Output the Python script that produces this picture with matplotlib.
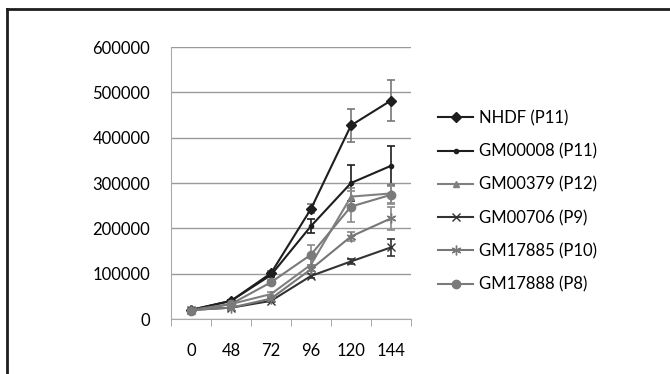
import matplotlib.pyplot as plt
from matplotlib.lines import Line2D
import numpy as np

plt.rcParams['font.family'] = ['Lato', 'DejaVu Sans']

hours = ['0', '48', '72', '96', '120', '144']

nhdf = [20000, 40000, 101000, 243000, 427000, 482000]
nhdf_err = [2000, 3000, 5000, 10000, 37000, 45000]
gm00008 = [20000, 40000, 97000, 205000, 300000, 338000]
gm00008_err = [2000, 3000, 5000, 15000, 40000, 43000]
gm00379 = [20000, 33000, 55000, 120000, 270000, 277000]
gm00379_err = [2000, 3000, 5000, 15000, 20000, 20000]
gm00706 = [20000, 25000, 40000, 95000, 127000, 158000]
gm00706_err = [2000, 2000, 3000, 5000, 6000, 18000]
gm17885 = [20000, 25000, 45000, 110000, 182000, 222000]
gm17885_err = [2000, 3000, 4000, 10000, 10000, 25000]
gm17888 = [18000, 33000, 81000, 142000, 248000, 274000]
gm17888_err = [2000, 3000, 5000, 22000, 35000, 20000]

series = [
    ('NHDF (P11)', nhdf, nhdf_err, '#1e1e1e', '#777777', 'D', 5),
    ('GM00008 (P11)', gm00008, gm00008_err, '#1e1e1e', '#1e1e1e', 'o', 3),
    ('GM00379 (P12)', gm00379, gm00379_err, '#808080', '#8a8a8a', '^', 5),
    ('GM00706 (P9)', gm00706, gm00706_err, '#333333', '#333333', 'x', 6),
    ('GM17885 (P10)', gm17885, gm17885_err, '#777777', '#8a8a8a', (6, 2, 0), 7),
    ('GM17888 (P8)', gm17888, gm17888_err, '#7a7a7a', '#8a8a8a', 'o', 6),
]

fig = plt.figure(figsize=(6.7, 3.74), dpi=100)
ax = fig.add_axes([0.2552, 0.147, 0.3582, 0.7273])

x = np.arange(len(hours))
handles = []
for name, y, err, col, ecol, mk, ms in series:
    ax.errorbar(x, y, yerr=err, color=col, ecolor=ecol, marker=mk, markersize=ms,
                linewidth=1.5, elinewidth=1.2, capsize=3, capthick=1.2)
    handles.append(Line2D([], [], color=col, marker=mk, markersize=ms, linewidth=1.5, label=name))

ax.set_xlim(-0.5, 5.5)
ax.set_ylim(0, 600000)
ax.set_yticks(np.arange(0, 600001, 100000))
ax.set_xticks(x)
ax.set_xticklabels(hours)
ax.set_xticks(np.arange(-0.5, 6, 1), minor=True)
ax.tick_params(axis='x', which='major', length=0, pad=17, labelsize=12)
ax.tick_params(axis='x', which='minor', length=5, color='#999999', direction='out')
ax.tick_params(axis='y', length=0, pad=15, labelsize=12)
ax.grid(axis='y', color='#9a9a9a', linewidth=1)
ax.set_axisbelow(True)
for s in ['top', 'right']:
    ax.spines[s].set_visible(False)
ax.spines['left'].set_color('#aaaaaa')
ax.spines['bottom'].set_color('#aaaaaa')

ax.legend(handles=handles, loc='upper left', bbox_to_anchor=(438 / 670, 1 - 110 / 374),
          bbox_transform=fig.transFigure, frameon=False, fontsize=12,
          handlelength=2.1, handletextpad=0.35, labelspacing=1.03,
          borderpad=0, borderaxespad=0)

# figure frame: top and left edges
fig.add_artist(Line2D([7 / 670, 7 / 670], [0, 1 - 9 / 374], color='#1e1e1e', linewidth=2))
fig.add_artist(Line2D([7 / 670, 1], [1 - 9 / 374, 1 - 9 / 374], color='#1e1e1e', linewidth=2))

fig.savefig('out.png', dpi=100)
